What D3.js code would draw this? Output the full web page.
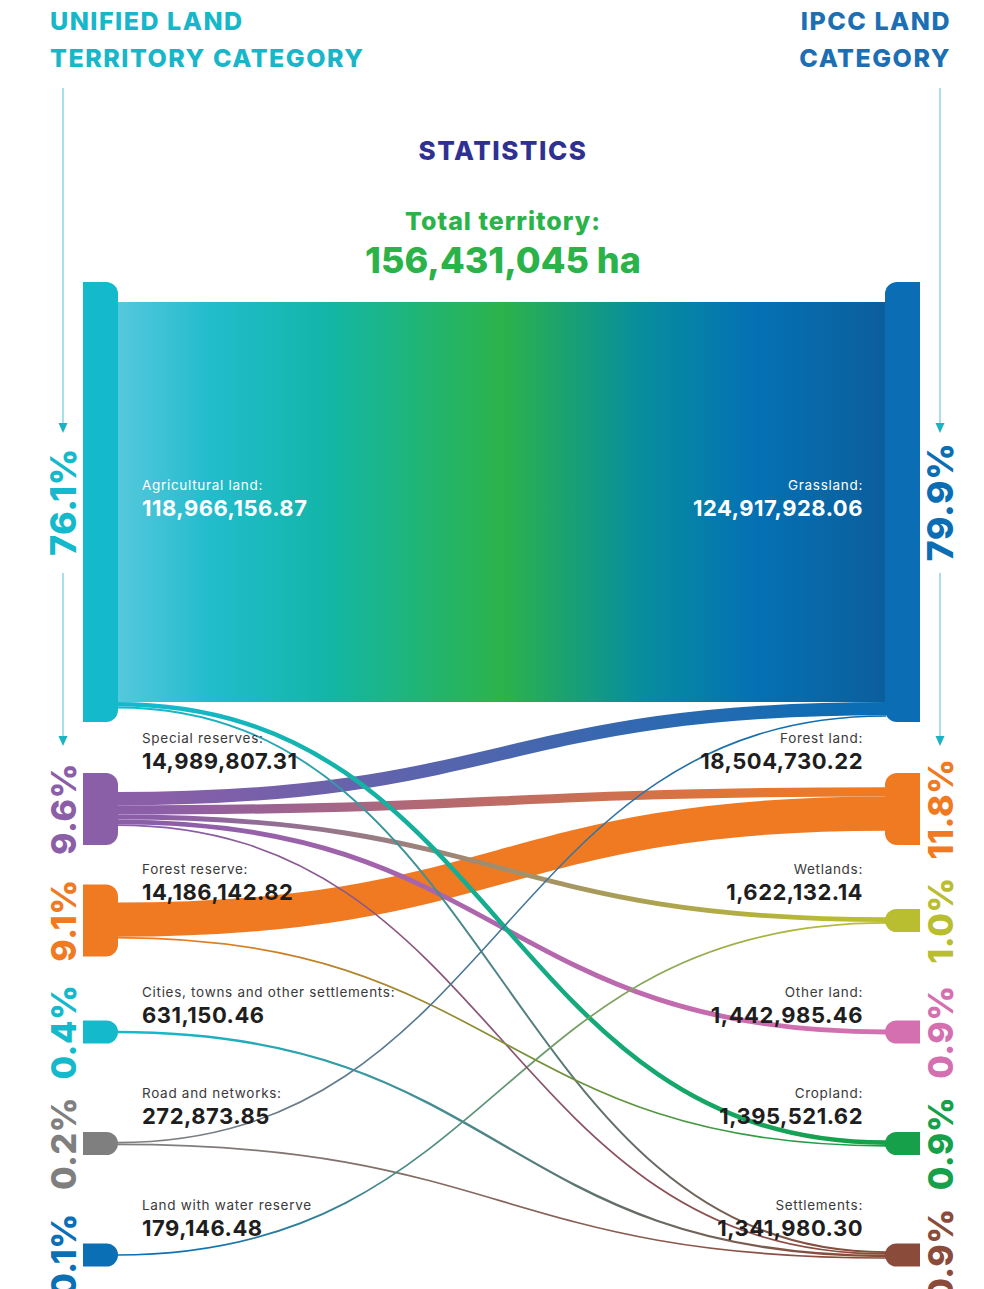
<!DOCTYPE html>
<html>
<head>
<meta charset="utf-8">
<script src="https://cdn.jsdelivr.net/npm/d3@7"></script>
<style>
  body { margin: 0; background: #fff; }
  svg { display: block; font-family: Inter, "Open Sans", sans-serif; }
</style>
</head>
<body>
<div id="chart"></div>
<script>
const totalTerritory = 156431045;

// left column: unified land territory categories
const leftNames = ["Agricultural land:", "Special reserves:", "Forest reserve:",
  "Cities, towns and other settlements:", "Road and networks:", "Land with water reserve"];
const leftValues = [118966156.87, 14989807.31, 14186142.82, 631150.46, 272873.85, 179146.48];
const leftColors = ["#14b9cc", "#8b5ea8", "#f07a22", "#14b9cc", "#7f7f7f", "#0a6fb5"];

// right column: IPCC land categories
const rightNames = ["Grassland:", "Forest land:", "Wetlands:", "Other land:", "Cropland:", "Settlements:"];
const rightValues = [124917928.06, 18504730.22, 1622132.14, 1442985.46, 1395521.62, 1341980.30];
const rightColors = ["#0b6db3", "#f07a22", "#b9bd30", "#d46fb0", "#16a04a", "#8a4b3a"];

// flows: source index -> target index
const flowSource = [0, 0, 0, 1, 1, 1, 1, 1, 2, 2, 3, 4, 4, 5];
const flowTarget = [0, 4, 5, 0, 1, 2, 3, 5, 1, 4, 5, 0, 5, 2];
const flowValues = [117370157, 1246000, 350000, 7458000, 4469000, 1443000, 1443000, 177000,
  14036000, 150000, 631150, 90000, 183000, 179146];

(function () {
  const width = 984, height = 1289;
  const leftX = 83, rightX = 885, nodeW = 35;

  const svg = d3.select("#chart").append("svg")
    .attr("width", width).attr("height", height);
  const defs = svg.append("defs");

  // slot index -> node centre
  const slotY = d3.scaleLinear().domain([0, 1, 5]).range([502, 809, 1255]);
  // node height by size class
  const nodeH = d3.scaleThreshold().domain([1e7, 1e8]).range([23, 72, 440]);
  // link width (stylised, not proportional)
  const linkW = d3.scaleLinear()
    .domain([0, 0.7e6, 1.2e6, 5e6, 8e6, 14e6, 117.4e6])
    .range([1.5, 2.4, 4.5, 10, 14, 34, 400]);

  const labelY = [490, 743, 874, 997, 1098, 1210];
  const pct = d3.format(".1%");
  const num = d3.format(",.2f");

  function makeNodes(names, values, colors, side) {
    return names.map((n, i) => {
      const h = nodeH(values[i]);
      const c = slotY(i);
      return { name: n, value: values[i], color: colors[i], side: side, i: i,
        y0: c - h / 2, y1: c + h / 2, cy: c, out: [], inc: [] };
    });
  }
  const left = makeNodes(leftNames, leftValues, leftColors, "left");
  const right = makeNodes(rightNames, rightValues, rightColors, "right");

  const links = flowValues.map((v, k) => ({
    source: left[flowSource[k]], target: right[flowTarget[k]],
    value: v, w: linkW(v), k: k
  }));
  links.forEach(l => { l.source.out.push(l); l.target.inc.push(l); });

  function stack(node, list, key, yKey) {
    list.sort((a, b) => a[key].i - b[key].i);
    const tot = d3.sum(list, d => d.w);
    let y = node.i === 0 ? node.cy - list[0].w / 2 : node.cy - tot / 2;
    list.forEach(l => { l[yKey] = y + l.w / 2; y += l.w; });
  }
  left.forEach(n => stack(n, n.out, "target", "sy"));
  right.forEach(n => stack(n, n.inc, "source", "ty"));

  const x0 = leftX + nodeW, x1 = rightX;

  // gradients
  const mainStops = [[0, "#55c8dc"], [0.12, "#22bccd"], [0.27, "#12b6a8"], [0.5, "#2cb34a"],
    [0.68, "#078e9d"], [0.83, "#0471b4"], [1, "#0c5e9c"]];
  links.forEach(l => {
    const g = defs.append("linearGradient")
      .attr("id", "lg" + l.k)
      .attr("gradientUnits", "userSpaceOnUse")
      .attr("x1", x0).attr("x2", x1).attr("y1", 0).attr("y2", 0);
    const stops = l.k === 0 ? mainStops
      : (l.source.color === l.target.color ? [[0, l.source.color], [1, l.target.color]]
      : [[0.05, l.source.color], [0.95, l.target.color]]);
    stops.forEach(s => g.append("stop").attr("offset", s[0]).attr("stop-color", s[1]));
  });

  const linkGen = d3.linkHorizontal().x(d => d[0]).y(d => d[1]);

  svg.append("g").attr("fill", "none")
    .selectAll("path")
    .data(links.slice().sort((a, b) => b.w - a.w))
    .join("path")
    .attr("d", d => linkGen({ source: [x0 - 1, d.sy], target: [x1 + 1, d.ty] }))
    .attr("stroke", d => "url(#lg" + d.k + ")")
    .attr("stroke-width", d => d.w);

  // nodes
  function leftPath(n) {
    const a = leftX, b = leftX + nodeW, r = Math.min(12, (n.y1 - n.y0) / 2);
    return `M${a},${n.y0}H${b - r}A${r},${r} 0 0 1 ${b},${n.y0 + r}V${n.y1 - r}` +
      `A${r},${r} 0 0 1 ${b - r},${n.y1}H${a}Z`;
  }
  function rightPath(n) {
    const a = rightX, b = rightX + nodeW, r = Math.min(12, (n.y1 - n.y0) / 2);
    return `M${b},${n.y0}H${a + r}A${r},${r} 0 0 0 ${a},${n.y0 + r}V${n.y1 - r}` +
      `A${r},${r} 0 0 0 ${a + r},${n.y1}H${b}Z`;
  }
  svg.append("g").selectAll("path").data(left).join("path")
    .attr("d", leftPath).attr("fill", d => d.color);
  svg.append("g").selectAll("path").data(right).join("path")
    .attr("d", rightPath).attr("fill", d => d.color);

  // node labels
  function labels(nodes, x, anchor) {
    const g = svg.append("g").attr("text-anchor", anchor);
    g.selectAll(".nm").data(nodes).join("text")
      .attr("class", "nm")
      .attr("x", x).attr("y", d => labelY[d.i])
      .attr("font-size", 13.5).attr("font-weight", 400)
      .attr("letter-spacing", 0.7)
      .attr("fill", d => d.i === 0 ? "#ffffff" : "#3a3a3a")
      .text(d => d.name);
    g.selectAll(".vl").data(nodes).join("text")
      .attr("class", "vl")
      .attr("x", x).attr("y", d => labelY[d.i] + 26)
      .attr("font-size", 22).attr("font-weight", 700)
      .attr("letter-spacing", 0.5)
      .attr("fill", d => d.i === 0 ? "#ffffff" : "#1e1e1e")
      .text(d => num(d.value));
  }
  labels(left, 142, "start");
  labels(right, 863, "end");

  // percentages, rotated
  function percents(nodes, x) {
    svg.append("g").selectAll("text").data(nodes).join("text")
      .attr("transform", d => `translate(${x},${d.cy}) rotate(-90)`)
      .attr("text-anchor", "middle")
      .attr("dominant-baseline", "central")
      .attr("font-size", d => d.i === 0 ? 36 : 34)
      .attr("font-weight", 800)
      .attr("letter-spacing", 0.5)
      .attr("fill", d => d.color)
      .text(d => pct(d.value / totalTerritory));
  }
  percents(left, 63);
  percents(right, 940);

  // vertical guide arrows
  const arrowSegs = [[88, 433], [573, 746]];
  [63, 940].forEach(x => {
    arrowSegs.forEach(s => {
      svg.append("line")
        .attr("x1", x).attr("x2", x).attr("y1", s[0]).attr("y2", s[1] - 9)
        .attr("stroke", "#8dd6df").attr("stroke-width", 1.5);
      svg.append("path")
        .attr("d", `M${x - 4.5},${s[1] - 10}L${x + 4.5},${s[1] - 10}L${x},${s[1]}Z`)
        .attr("fill", "#19b3c4");
    });
  });

  // titles
  const tl = svg.append("g").attr("font-weight", 800).attr("font-size", 25)
    .attr("letter-spacing", 1.5).attr("fill", "#18b6c9");
  tl.append("text").attr("x", 50).attr("y", 30).text("UNIFIED LAND");
  tl.append("text").attr("x", 50).attr("y", 67).text("TERRITORY CATEGORY");
  const tr = svg.append("g").attr("font-weight", 800).attr("font-size", 25)
    .attr("letter-spacing", 1.5).attr("fill", "#1d6fb4").attr("text-anchor", "end");
  tr.append("text").attr("x", 951).attr("y", 30).text("IPCC LAND");
  tr.append("text").attr("x", 951).attr("y", 67).text("CATEGORY");

  const mid = svg.append("g").attr("text-anchor", "middle").attr("font-weight", 800);
  mid.append("text").attr("x", 503).attr("y", 160).attr("font-size", 26)
    .attr("letter-spacing", 1.5).attr("fill", "#2e3192").text("STATISTICS");
  mid.append("text").attr("x", 503).attr("y", 230).attr("font-size", 25)
    .attr("letter-spacing", 1).attr("fill", "#2bb34a").text("Total territory:");
  mid.append("text").attr("x", 503).attr("y", 273).attr("font-size", 36)
    .attr("fill", "#2bb34a").text(d3.format(",")(totalTerritory) + " ha");
})();
</script>
</body>
</html>
